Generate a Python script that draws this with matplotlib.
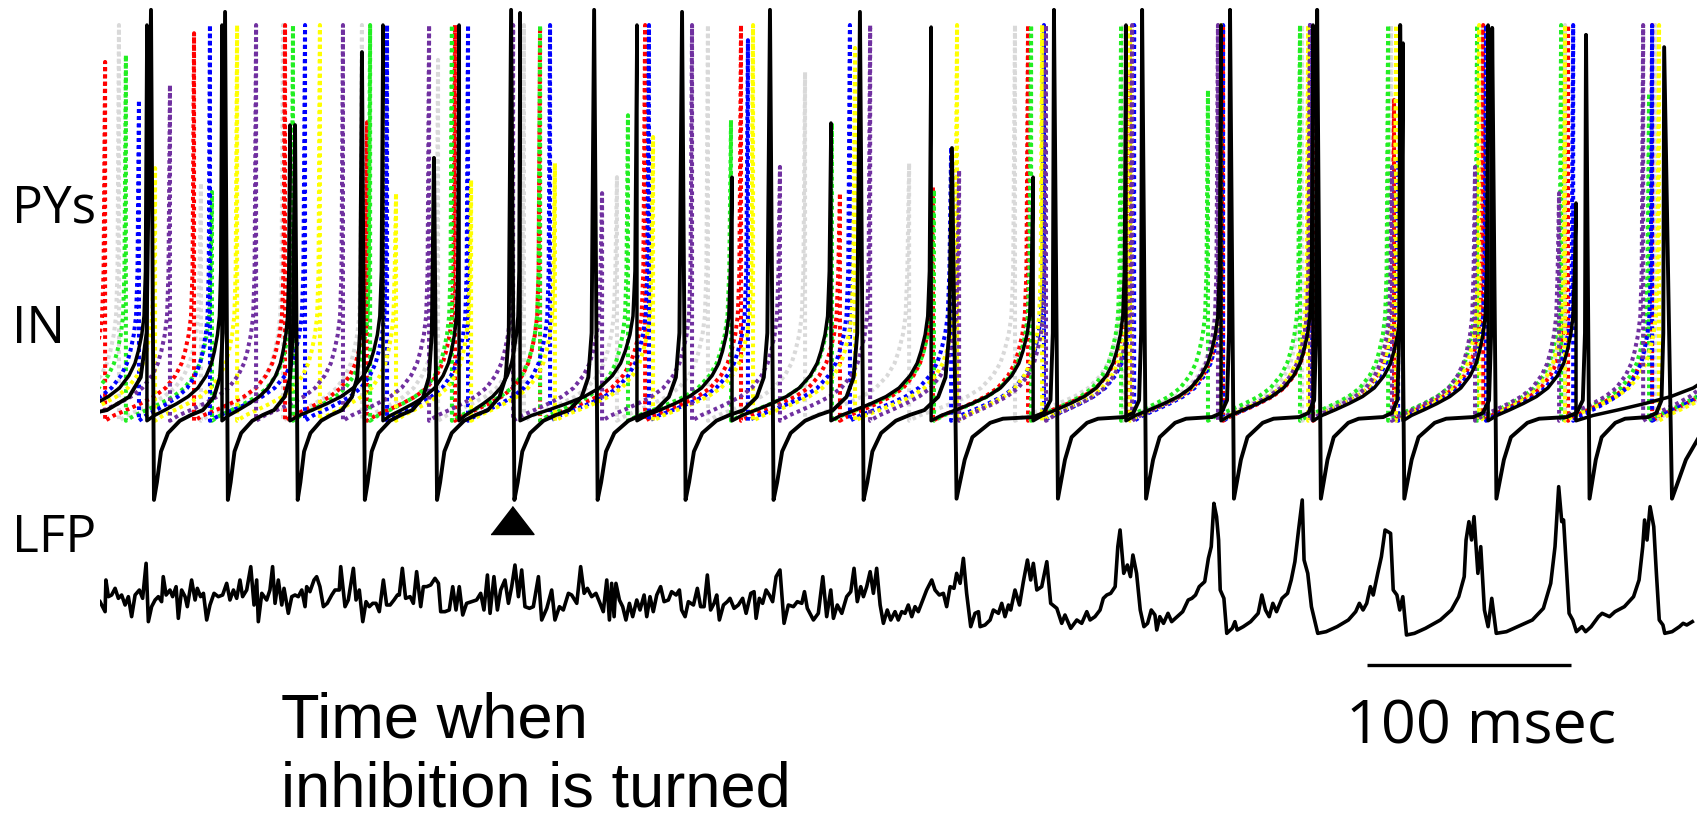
import numpy as np
import matplotlib
matplotlib.use("Agg")
import matplotlib.pyplot as plt

# ---------------------------------------------------------------
# data: times in ms, membrane potential in mV
# first entry of each spike list is the spike just before the
# visible window, last entry the one just after it
# ---------------------------------------------------------------
red_spikes = [-41, 2.5, 46.1, 90.7, 130.9, 174.0, 215.7, 267.2, 314.2, 362.7,
              408.3, 454.9, 503.9, 550.5, 594.6, 634.3, 678.0, 719.6, 760.8, 803]
red_peaks = [30, 21, 28, 30, 6.3, 30, 29.5, 30, 30, -11,
             -9.5, 30, 18.5, 30, 30, 11.7, 30, 30, 30, 30]

gray_spikes = [-33, 9.3, 49.5, 89.7, 128.4, 165.7, 207.8, 253.4, 298.0, 345.6,
               396.6, 448.5, 501.5, 548.0, 589.2, 632.8, 678.0, 718.1, 762.3, 805]
gray_peaks = [30, 30, -8.5, 30, 30, 21.5, 30, -7.1, 30, 18.5,
              -3.7, 30, 30, 30, 30, 30, 30, 30, 30, 30]

green_spikes = [-29, 12.7, 54.9, 94.6, 132.4, 172.5, 215.7, 258.8, 309.3, 358.8,
                408.8, 456.4, 500.5, 543.1, 588.2, 631.4, 675.0, 716.2, 759.3, 802]
green_peaks = [30, 22.7, -10.7, 30, 30, 30, 30, 8, 6.8, 6.1,
               -10.2, 30, 30, 14.1, 30, 30, 30, 30, 13.4, 30]

blue_spikes = [-23, 19.1, 53.9, 100.5, 140.7, 180.4, 220.6, 269.1, 317.6, 367.6,
               417.2, 462.7, 506.9, 550.5, 593.1, 636.3, 679.4, 722.1, 760.8, 803]
blue_peaks = [30, 11.7, 30, 30, 30, 30, 30, 30, 26.3, 30,
              0.2, 30, 30, 30, 30, -2.9, 30, 30, 30, 30]

yellow_spikes = [-15, 27.0, 67.2, 107.8, 145.1, 181.9, 223.0, 271.1, 320.1, 370.1,
                 420.1, 461.8, 504.9, 549.5, 592.2, 635.3, 676.0, 718.1, 764.2, 806]
yellow_peaks = [30, -4.9, 30, 30, -11, -7.8, -3.7, 2.7, 30, 24.4,
                30, 30, 30, 30, 30, 30, 30, 30, 30, 30]

purple_spikes = [-8, 34.3, 76.5, 119.1, 161.3, 202.5, 246.1, 290.2, 333.3, 377.5,
                 421.1, 463.7, 505.9, 548.0, 593.1, 633.3, 674.0, 715.2, 756.4, 798]
purple_peaks = [30, 15.4, 30, 30, 30, 30, -11, 30, -4.6, 30,
                -5.4, 30, 30, 30, 30, -4.6, -4.6, -11, 30, 30]

# the one PY drawn as a solid black line
pyk_spikes = [-19, 23.0, 59.8, 93.1, 138.7, 176.0, 205.9, 263.2, 309.8, 358.3,
              407.4, 457.4, 502.9, 549.5, 594.6, 638.7, 680.4, 723.5, 808]
pyk_peaks = [30, 30, 30, 5.6, 30, 30, 33, 30, -7.1, 6.1,
             29.5, -7.1, 30, 30, 30, 25.6, 30, -13.4, 30]

# interneuron
in_spikes = [-47, 25.0, 61.3, 95.6, 128.4, 163.7, 201.5, 242.2, 285.3, 328.4,
             372.5, 417.6, 467.6, 510.8, 553.9, 596.6, 637.3, 682.4, 728.4, 766.7, 852]
in_peaks = [33, 33.7, 33.2, 5.6, 23.4, -2.4, 33.7, 33.7, 33.2, 33.7,
            33.2, 0, 33.7, 33.7, 33.7, 33.7, 30, 29.3, 27.6, 24.6, 33]
in_late_from = 417.6  # from here the IN sits on a flat plateau between spikes

# trajectory between two spikes, read from single clean cycles (phase 0..1)
py_phase = [0, 0.1, 0.25, 0.4, 0.55, 0.68, 0.79, 0.86, 0.9, 0.94, 0.966, 0.983]
py_mv = [-66.5, -65.2, -63.8, -62.3, -60.6, -58.5, -55.5, -52.5, -49.5, -45.5, -41, -30]
in_phase_early = [0.04, 0.08, 0.135, 0.23, 0.39, 0.54, 0.70, 0.85, 0.93, 0.97]
in_mv_early = [-85.8, -81.5, -74, -69.5, -66.5, -65.1, -63.9, -60.7, -55.9, -45.1]
in_phase_late = [0.045, 0.125, 0.2, 0.375, 0.5, 0.795, 0.9, 0.966, 0.989]
in_mv_late = [-85.5, -76, -70.5, -67, -66, -65.6, -64.6, -61.5, -45.1]

# LFP (ms, uV) - irregular part, build-up, large waves
lfp_noise = [(0.0, -5), (2.5, -35), (2.9, 60), (4.1, 10), (5.7, 15), (7.4, 35), (9.0, 5), (10.6, 15), (12.3, -15), (13.9, 10),
             (15.5, -50), (17.2, 15), (19.3, 30), (20.9, 5), (22.6, 110), (23.7, -65), (25.3, -20), (27.0, 0), (28.6, 10), (30.2, -5),
             (31.0, 70), (32.4, 15), (34.3, 30), (35.6, 10), (37.3, 40), (38.4, -55), (40.0, 30), (41.7, 10), (42.8, -20), (44.9, 60),
             (46.6, 0), (47.7, 35), (49.3, 10), (50.7, 20), (52.3, -60), (53.9, -15), (55.9, 20), (58.0, 10), (60.1, 15), (62.1, 50),
             (63.7, 0), (65.4, 30), (67.0, 5), (68.6, 60), (69.9, 10), (71.9, 30), (73.9, 100), (75.5, -15), (76.8, 60), (77.6, -65),
             (79.3, 20), (81.7, 0), (83.3, 30), (84.6, 100), (85.8, -10), (87.4, 60), (89.1, -15), (90.2, 35), (92.3, -40), (94.0, 10),
             (95.6, 15), (97.2, 10), (98.9, 30), (100.5, -20), (101.3, 40), (102.9, 25), (104.9, 60), (106.2, 70), (107.8, 40), (109.5, -20),
             (111.4, -10), (113.6, 15), (115.2, 30), (117.3, 30), (118.0, 100), (120.1, -20), (121.7, 0), (124.2, 95), (125.5, 0), (127.1, 30),
             (128.8, -65), (130.4, -5), (132.0, -20), (133.7, -10), (135.3, -10), (136.9, -35), (138.9, 60), (140.5, -15), (142.2, -15), (144.1, 0),
             (145.8, 15), (146.7, 15), (148.2, 95), (149.8, 5), (152.0, 10), (153.6, -10), (155.2, 85), (157.2, -20), (158.5, 40), (160.1, 40),
             (162.1, 45), (164.2, 65), (165.9, 50), (167.0, -35), (169.1, -35), (171.2, -30), (172.9, 40), (174.5, -30), (176.1, 40), (177.8, -45),
             (179.7, -10), (182.2, -5), (184.6, 0), (186.6, 20), (188.2, -30), (189.9, 75), (191.2, -40), (193.1, 70), (194.8, -30), (196.4, 30),
             (198.5, 60), (200.2, -10), (201.8, 40), (203.4, 105), (205.1, 10), (206.7, 90), (208.3, -20), (210.5, -25), (212.4, -20), (214.9, 70),
             (216.5, -60), (219.0, -25), (221.4, 30), (223.0, -60), (225.2, -20), (227.1, -30), (229.6, 20), (231.2, 15), (233.7, -10), (235.6, 100),
             (237.3, 20), (238.9, 35), (241.0, 10), (243.1, 20)]

lfp_build = [(245.1, -10), (246.7, -35), (248.4, 60), (249.7, -60), (250.8, 50), (252.0, -50), (252.9, 50), (254.6, 0), (256.2, -20), (257.8, -60),
             (259.5, -10), (261.1, -50), (263.1, 0), (264.7, -30), (266.7, 15), (268.0, -50), (269.6, 10), (271.2, -35), (272.9, 15), (274.8, 40),
             (276.5, -5), (278.6, 0), (280.2, 25), (282.4, 15), (284.0, 30), (285.1, -30), (286.8, -50), (288.4, -5), (290.9, -15), (292.8, 35),
             (294.4, -20), (296.1, -20), (297.7, 75), (299.3, -30), (301.0, -10), (302.3, 15), (303.6, -60), (305.6, -15), (307.5, -5), (308.8, 5),
             (310.8, -25), (312.9, -15), (315.0, 5), (316.7, -40), (319.0, 20), (320.6, 25), (321.6, -55), (323.2, 5), (324.8, -10), (326.5, 30),
             (328.1, 15), (329.7, -5), (331.4, 70), (333.3, 90), (335.3, -70), (337.4, -15), (339.9, -20), (341.8, -5), (344.0, -10), (345.3, 25),
             (346.7, -25), (349.7, -60), (352.1, -40), (354.3, 70), (356.2, -50), (358.2, 30), (359.5, -55), (361.4, -15), (363.6, -40), (366.0, 10),
             (368.0, 25), (369.6, 95), (371.2, -5), (372.9, 40), (374.2, 10), (375.8, 40), (377.5, 85), (379.1, 20), (380.7, 95), (382.4, -15),
             (384.0, -70), (385.9, -30), (387.6, -60), (389.7, -35), (391.3, -60), (393.0, -35), (394.6, -40), (396.2, -15), (397.9, -50), (399.5, -20),
             (401.1, -35), (403.3, 0), (405.2, 30), (407.7, 60), (409.3, 30), (411.4, 15), (413.4, 20), (415.0, -20), (416.7, 40), (418.6, 35),
             (419.9, 80), (421.6, 50), (423.2, 125), (424.8, 20), (426.8, -80), (428.9, -40), (430.6, -35), (431.4, -80), (433.8, -75), (436.3, -60),
             (437.9, -30), (440.4, -40), (442.0, -10), (443.6, -50), (445.3, -15), (446.4, -30), (448.5, 30), (450.7, -15), (452.6, 55), (454.6, 120),
             (456.2, 60), (457.5, 110), (459.2, 30), (461.6, 40), (464.1, 115), (466.0, -10), (469.0, -25), (471.4, -70), (473.0, -45), (475.8, -85),
             (478.8, -60), (481.2, -70), (483.7, -35), (485.3, -60), (487.7, -50), (490.2, -30), (491.8, 5), (493.5, 15), (495.4, 20), (497.6, 40),
             (498.9, 160)]

lfp_waves = [(500.0, 210), (501.8, 80), (503.6, 105), (505.1, 70), (506.3, 135), (508.1, 80), (509.9, -30), (511.7, -80), (513.5, -70), (515.3, -30),
             (517.1, -45), (518.0, -90), (519.5, -50), (521.3, -70), (523.5, -40), (525.3, -65), (528.0, -50), (530.7, -35), (533.4, 0), (535.2, 5),
             (537.0, 15), (538.8, 40), (541.5, 55), (543.3, 125), (544.7, 160), (546.0, 290), (547.3, 250), (548.3, 180), (549.1, 30), (550.9, 5),
             (552.3, -100), (555.0, -85), (556.3, -65), (557.4, -90), (560.4, -80), (564.0, -65), (567.7, -40), (569.5, 15), (571.3, -30), (573.1, -50),
             (574.9, -10), (576.7, -35), (579.4, 5), (582.1, 20), (583.9, 60), (585.7, 115), (587.5, 210), (589.3, 300), (590.2, 120), (592.0, 80),
             (593.8, -20), (596.9, -100), (601.0, -95), (606.4, -80), (611.9, -60), (615.5, -35), (617.3, -10), (619.1, -30), (620.9, -10), (622.7, 40),
             (624.1, 15), (626.3, 80), (628.1, 130), (629.9, 210), (632.6, 200), (633.9, 30), (635.7, 15), (637.1, -30), (638.6, 10), (640.4, -105),
             (644.3, -100), (649.7, -85), (657.0, -60), (662.4, -30), (666.0, 10), (668.7, 70), (669.6, 180), (671.0, 235), (672.3, 180), (673.5, 250),
             (675.4, 80), (676.8, 160), (678.6, -30), (680.4, -80), (682.2, 5), (684.4, -100), (689.4, -95), (694.8, -80), (702.1, -60), (707.5, -25),
             (711.1, 50), (713.2, 160), (715.0, 340), (716.5, 235), (717.4, 240), (720.1, -40), (721.9, -60), (723.7, -95), (726.4, -80), (728.2, -95),
             (730.9, -80), (734.5, -50), (736.3, -40), (739.9, -50), (742.6, -35), (747.2, -20), (751.7, 10), (754.4, 60), (756.2, 160), (757.1, 240),
             (758.3, 180), (759.8, 280), (761.6, 220), (762.9, 80), (764.3, -60), (766.1, -75), (767.0, -100), (770.6, -95), (774.2, -80), (776.0, -70),
             (777.8, -75), (780.5, -65)]

inhibition_off_ms = 202
scale_ms = 100

py_cells = [
    (gray_spikes, gray_peaks, "#d9d9d9"),
    (red_spikes, red_peaks, "#ff0000"),
    (green_spikes, green_peaks, "#22ee22"),
    (blue_spikes, blue_peaks, "#0000ff"),
    (yellow_spikes, yellow_peaks, "#ffff00"),
    (purple_spikes, purple_peaks, "#7030a0"),
]


def build_trace(spikes, peaks, shape, late_from=None, late_shape=None):
    t, v = [], []
    for k in range(len(spikes) - 1):
        t0, t1 = spikes[k], spikes[k + 1]
        phase, mv = shape
        if late_from is not None and t0 >= late_from:
            phase, mv = late_shape
        t += [t0 + p * (t1 - t0) for p in phase]
        v += list(mv)
        t.append(t1)
        v.append(peaks[k + 1])
    return t, v


fig = plt.figure(figsize=(16.97, 8.21), dpi=100)
left = 100 / 1697
ax = fig.add_axes([left, 0, 1 - left, 1])
ax.set_xlim(0, 782.8)
ax.set_ylim(-164.1, 36.1)
ax.axis("off")

for spikes, peaks, color in py_cells:
    t, v = build_trace(spikes, peaks, (py_phase, py_mv))
    ax.plot(t, v, color=color, lw=2.9, ls=(0, (0.9, 0.9)), solid_capstyle="butt")

t, v = build_trace(pyk_spikes, pyk_peaks, (py_phase, py_mv))
ax.plot(t, v, color="black", lw=2.5)

t, v = build_trace(in_spikes, in_peaks, (in_phase_early, in_mv_early),
                   in_late_from, (in_phase_late, in_mv_late))
ax.plot(t, v, color="black", lw=2.8)

# LFP on its own axis
ax2 = fig.add_axes([left, 0, 1 - left, 1])
ax2.set_xlim(0, 782.8)
ax2.set_ylim(-663, 1800)
ax2.axis("off")
lfp = np.array(lfp_noise + lfp_build + lfp_waves)
ax2.plot(lfp[:, 0], lfp[:, 1], color="black", lw=2.6)

tri = [(-1, -0.65), (1, -0.65), (0, 0.65)]
ax2.plot([inhibition_off_ms], [240], marker=tri, markersize=31, color="black", ls="none")

bar_start = 621
ax2.plot([bar_start, bar_start + scale_ms], [-195, -195], color="black", lw=2.4,
         solid_capstyle="butt")

lab = dict(family=["Open Sans", "DejaVu Sans"], fontsize=37, color="black")
fig.text(12 / 1697, 1 - 222 / 821, "PYs", ha="left", va="baseline", **lab)
fig.text(12 / 1697, 1 - 343 / 821, "IN", ha="left", va="baseline", **lab)
fig.text(12 / 1697, 1 - 552 / 821, "LFP", ha="left", va="baseline", **lab)
fig.text(1481 / 1697, 1 - 743 / 821, f"{scale_ms} msec", ha="center", va="baseline",
         family=["Open Sans", "DejaVu Sans"], fontsize=44)

arial = ["Liberation Sans", "DejaVu Sans"]
fig.text(281 / 1697, 1 - 737 / 821, "Time when", ha="left", va="baseline",
         family=arial, fontsize=45.5)
fig.text(281 / 1697, 1 - 806 / 821, "inhibition is turned", ha="left", va="baseline",
         family=arial, fontsize=45.5)

fig.savefig("out.png", dpi=100)
